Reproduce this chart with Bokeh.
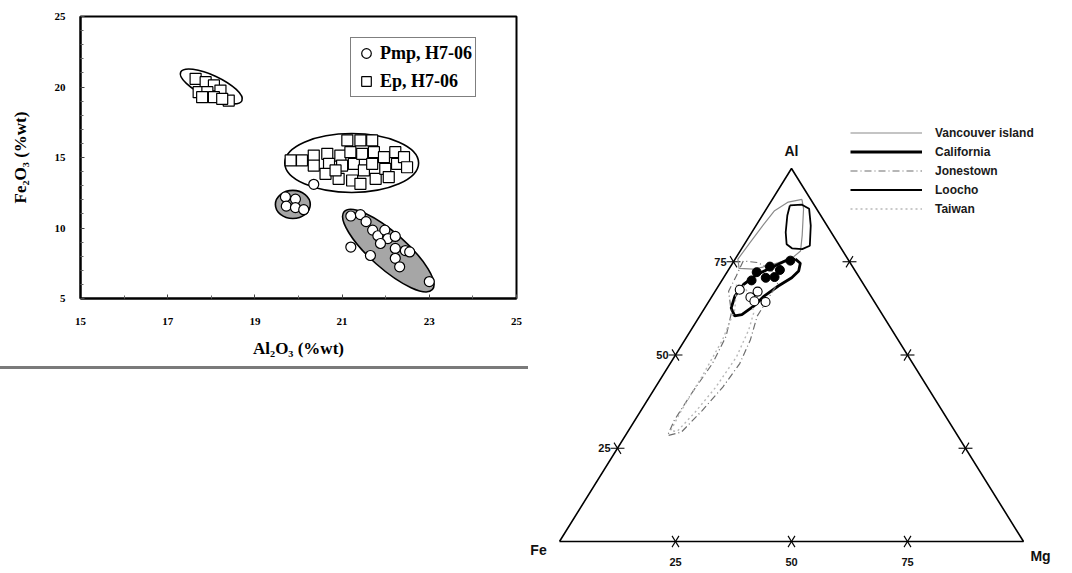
import numpy as np
from bokeh.plotting import figure
from bokeh.models import (ColumnDataSource, FixedTicker, Legend, LegendItem, Div, Range1d)
from bokeh.layouts import row, column
from bokeh.embed import file_html
from bokeh.resources import INLINE
from bokeh.core.properties import value

# ---------------- left diagram: Al2O3 vs Fe2O3 (%wt) ----------------
ep_al2o3 = [17.64, 17.87, 18.06, 17.71, 17.91, 18.21, 17.79, 18.06, 18.40, 18.25,
            19.82, 20.08, 20.35, 20.35, 20.66, 20.70, 20.62, 20.96, 21.00, 20.92,
            21.12, 21.19, 21.27, 21.23, 21.42, 21.46, 21.50, 21.69, 21.73, 21.69,
            21.77, 21.96, 21.99, 22.07, 22.22, 22.26, 22.42, 22.49, 20.85, 21.42]
ep_fe2o3 = [20.58, 20.34, 20.11, 19.63, 19.63, 19.75, 19.28, 19.28, 19.04, 19.16,
            14.79, 14.79, 15.14, 14.43, 15.26, 14.55, 13.84, 15.14, 14.43, 13.49,
            16.21, 15.38, 14.55, 13.37, 16.21, 15.26, 14.08, 16.21, 15.38, 14.55,
            13.49, 15.02, 14.20, 13.61, 15.38, 14.55, 15.02, 14.31, 14.08, 13.13]
pmp_al2o3 = [19.70, 19.93, 19.72, 19.93, 20.12, 20.35,
             21.20, 21.42, 21.55, 21.70, 21.82, 21.98, 22.05, 21.88, 22.22, 22.22,
             22.45, 22.22, 22.32, 21.20, 21.65, 22.55, 23.00]
pmp_fe2o3 = [12.20, 12.05, 11.55, 11.45, 11.30, 13.10,
             10.85, 10.95, 10.45, 9.85, 9.45, 9.85, 9.25, 8.90, 9.40, 8.55,
             8.40, 7.85, 7.25, 8.65, 8.05, 8.30, 6.20]
# outlined groups (ellipses): centre, extent along x and y, tilt
grp_al2o3 = [18.00, 21.22, 19.87, 22.06]
grp_fe2o3 = [20.04, 14.61, 11.67, 8.40]
grp_width = [1.55, 3.07, 0.80, 2.70]
grp_height = [1.57, 4.18, 1.99, 2.55]
grp_angle_deg = [-25.0, 0.0, 0.0, -41.5]
grp_mineral = ["Ep", "Ep", "Pmp", "Pmp"]
x_ticks = [15, 17, 19, 21, 23, 25]
x_minor = [16, 18, 20, 22, 24]
y_ticks = [5, 10, 15, 20, 25]
y_minor = [6, 7, 8, 9, 11, 12, 13, 14, 16, 17, 18, 19, 21, 22, 23, 24]
left_labels = ["Pmp, H7-06", "Ep, H7-06"]

# ---------------- right diagram: Al - Fe - Mg ternary ----------------
vancouver_al = [91.7, 89.2, 82.0, 77.9, 75.9, 74.1, 73.0, 73.2, 75.7, 80.2, 85.1, 88.7, 91.0]
vancouver_mg = [6.4, 8.0, 11.3, 13.0, 12.1, 8.5, 5.4, 2.1, 0.6, 1.0, 1.5, 2.0, 3.8]
vancouver_fe = [1.9, 2.8, 6.7, 9.1, 12.0, 17.4, 21.6, 24.7, 23.7, 18.8, 13.4, 9.3, 5.2]
california_al = [75.7, 74.6, 72.5, 70.7, 68.5, 65.8, 63.1, 60.8, 60.5, 62.6, 65.8, 68.9, 71.6, 73.4, 75.2]
california_mg = [13.0, 14.6, 15.3, 14.7, 12.9, 11.2, 10.3, 8.9, 7.5, 5.7, 4.9, 5.2, 6.8, 8.9, 11.0]
california_fe = [11.3, 10.8, 12.2, 14.6, 18.6, 23.0, 26.6, 30.3, 32.0, 31.7, 29.3, 25.9, 21.6, 17.7, 13.8]
jonestown_al = [75.2, 71.2, 67.1, 61.3, 55.0, 47.7, 39.6, 32.4, 28.4, 29.3, 35.1, 41.4, 47.7, 54.1,
                60.4, 64.9, 69.4, 73.0, 74.8]
jonestown_mg = [2.0, 2.5, 2.9, 6.4, 8.4, 9.1, 8.6, 8.5, 9.1, 11.6, 13.2, 14.5, 15.0, 14.1,
                12.4, 12.4, 12.4, 9.1, 5.2]
jonestown_fe = [22.8, 26.3, 30.0, 32.3, 36.6, 43.2, 51.8, 59.1, 62.5, 59.1, 51.7, 44.1, 37.3, 31.8,
                27.2, 22.7, 18.2, 17.9, 20.0]
loocho_al = [90.1, 90.3, 89.2, 84.7, 79.3, 78.4, 78.6, 79.7, 82.9, 87.4]
loocho_mg = [4.6, 7.1, 9.2, 11.8, 14.3, 13.1, 10.8, 9.1, 7.3, 5.4]
loocho_fe = [5.3, 2.6, 1.6, 3.5, 6.4, 8.5, 10.6, 11.2, 9.8, 7.2]
taiwan_al = [68.9, 62.2, 54.1, 44.1, 35.1, 29.7, 29.5, 34.7, 41.4, 49.5, 56.8, 61.3, 65.8, 68.5]
taiwan_mg = [3.7, 6.7, 8.1, 8.6, 8.7, 9.1, 10.6, 11.9, 13.0, 13.4, 12.4, 11.2, 8.2, 5.4]
taiwan_fe = [27.4, 31.1, 37.8, 47.3, 56.2, 61.2, 59.9, 53.4, 45.6, 37.1, 30.8, 27.5, 26.0, 26.1]
solid_al = [75.3, 72.8, 73.7, 70.9, 70.7, 72.2, 70.0]
solid_mg = [12.1, 11.1, 8.5, 10.9, 9.1, 6.4, 6.4]
solid_fe = [12.6, 16.1, 17.8, 18.2, 20.2, 21.4, 23.6]
open_al = [67.5, 67.0, 65.5, 64.4, 64.2]
open_mg = [5.1, 9.2, 8.4, 9.8, 12.3]
open_fe = [27.4, 23.8, 26.1, 25.8, 23.5]
tern_ticks = [25, 50, 75]
corner_names = ["Fe", "Al", "Mg"]
corner_al = [0, 100, 0]
corner_mg = [0, 0, 100]
locality_names = ["Vancouver island", "California", "Jonestown", "Loocho", "Taiwan"]

SERIF = "Liberation Serif"
SANS = "Liberation Sans"

# ================= left figure =================
p = figure(width=528, height=366, x_range=Range1d(15, 25), y_range=Range1d(5, 25),
           output_backend="svg", toolbar_location=None,
           min_border_left=80, min_border_right=12, min_border_top=16, min_border_bottom=68)
p.grid.visible = False
p.outline_line_color = "black"
p.outline_line_width = 2
p.background_fill_color = "white"
p.border_fill_color = "white"

p.xaxis.ticker = FixedTicker(ticks=x_ticks, minor_ticks=x_minor)
p.yaxis.ticker = FixedTicker(ticks=y_ticks, minor_ticks=y_minor)
for ax in (p.xaxis[0], p.yaxis[0]):
    ax.axis_line_width = 2
    ax.axis_line_color = "black"
    ax.major_tick_in = 4
    ax.major_tick_out = 0
    ax.minor_tick_in = 3
    ax.minor_tick_out = 0
    ax.major_tick_line_color = "#444444"
    ax.minor_tick_line_color = "#666666"
    ax.major_label_text_font = SERIF
    ax.major_label_text_font_style = "bold"
    ax.major_label_text_font_size = "11px"
    ax.major_label_text_color = "black"
    ax.axis_label_text_font = SERIF
    ax.axis_label_text_font_style = "bold"
    ax.axis_label_text_font_size = "17px"
    ax.axis_label_text_color = "black"
p.xaxis.axis_label = "Al\u2082O\u2083 (%wt)"
p.yaxis.axis_label = "Fe\u2082O\u2083 (%wt)"
p.xaxis.major_label_standoff = 19
p.xaxis.axis_label_standoff = 11
p.yaxis.major_label_standoff = 15
p.yaxis.axis_label_standoff = 22

grp_src = ColumnDataSource(dict(
    x=grp_al2o3, y=grp_fe2o3, w=grp_width, h=grp_height,
    angle=list(np.deg2rad(grp_angle_deg)),
    alpha=[1.0 if m == "Pmp" else 0.0 for m in grp_mineral]))
p.ellipse(x="x", y="y", width="w", height="h", angle="angle", source=grp_src,
          fill_color="#a6a6a6", fill_alpha="alpha", line_color="black", line_width=1.6)

r_ep = p.scatter(ep_al2o3, ep_fe2o3, marker="square", size=11, fill_color="white",
                 line_color="black", line_width=1.2)
r_pmp = p.scatter(pmp_al2o3, pmp_fe2o3, marker="circle", size=10, fill_color="white",
                  line_color="black", line_width=1.2)

leg = Legend(items=[LegendItem(label=left_labels[0], renderers=[r_pmp]),
                    LegendItem(label=left_labels[1], renderers=[r_ep])],
             location=(270, 201))
leg.border_line_color = "black"
leg.border_line_width = 1.5
leg.background_fill_color = "white"
leg.background_fill_alpha = 1.0
leg.label_text_font = SERIF
leg.label_text_font_style = "bold"
leg.label_text_font_size = "18px"
leg.label_text_color = "black"
leg.glyph_width = 24
leg.glyph_height = 24
leg.label_height = 24
leg.label_standoff = 2
leg.spacing = 4
leg.padding = 3
leg.margin = 0
p.add_layout(leg)

sep = Div(text="", width=528, height=3, margin=(0, 0, 0, 0),
          styles={"background-color": "#7a7a7a"})

# ================= right figure: ternary =================
def txy(al, mg):
    al = np.asarray(al, dtype=float)
    mg = np.asarray(mg, dtype=float)
    return mg + al / 2.0, al

t = figure(width=544, height=573, x_range=Range1d(-6.68, 110.56), y_range=Range1d(-8.58, 145.04),
           output_backend="svg", toolbar_location=None, min_border=0,
           x_axis_location=None, y_axis_location=None)
t.grid.grid_line_color = None
t.outline_line_color = None
t.background_fill_color = "white"
t.border_fill_color = "white"

# triangle frame
tri_x, tri_y = txy(corner_al + corner_al[:1], corner_mg + corner_mg[:1])
t.line(tri_x, tri_y, line_color="black", line_width=1.6)

# ternary ticks (small crosses)
h = 1.5
tv = np.array(tern_ticks, dtype=float)
zeros = np.zeros_like(tv)
sx0, sy0, sx1, sy1 = [], [], [], []
def add_seg(al, mg, dal, dmg):
    x0, y0 = txy(al - h * dal, mg - h * dmg)
    x1, y1 = txy(al + h * dal, mg + h * dmg)
    sx0.extend(x0); sy0.extend(y0); sx1.extend(x1); sy1.extend(y1)
# left edge (Mg = 0)
add_seg(tv, zeros, 0, 1); add_seg(tv, zeros, 1, -1)
# bottom edge (Al = 0)
add_seg(zeros, tv, 1, 0); add_seg(zeros, tv, 1, -1)
# right edge (Fe = 0)
add_seg(tv, 100 - tv, 0, 1); add_seg(tv, 100 - tv, 1, 0)
t.segment(sx0, sy0, sx1, sy1, line_color="black", line_width=1.1)

# tick labels
lx, ly = txy(tv, zeros)
t.text(lx, ly, text=[str(int(v)) for v in tv], x_offset=-7, text_align="right",
       text_baseline="middle", text_font=value(SANS), text_font_style="bold",
       text_font_size="11px", text_color="#111111")
bx, by = txy(zeros, tv)
t.text(bx, by, text=[str(int(v)) for v in tv], y_offset=21, text_align="center",
       text_baseline="middle", text_font=value(SANS), text_font_style="bold",
       text_font_size="11px", text_color="#111111")

# corner labels
cx, cy = txy(corner_al, corner_mg)
t.text(cx, cy, text=corner_names, x_offset=[-21, 0, 17], y_offset=[9, -17, 15],
       text_align="center", text_baseline="middle", text_font=value(SANS),
       text_font_style="bold", text_font_size="14px", text_color="#111111")

def closed(a):
    return list(a) + [a[0]]

styles = [
    (vancouver_al, vancouver_mg, dict(line_color="#8a8a8a", line_width=1.2)),
    (california_al, california_mg, dict(line_color="black", line_width=2.8)),
    (jonestown_al, jonestown_mg, dict(line_color="#6e6e6e", line_width=1.2, line_dash="7 3 1 3")),
    (loocho_al, loocho_mg, dict(line_color="black", line_width=1.8)),
    (taiwan_al, taiwan_mg, dict(line_color="#b8b8b8", line_width=1.4, line_dash="2 3")),
]
loc_renderers = []
for al, mg, st in styles:
    x, y = txy(closed(al), closed(mg))
    loc_renderers.append(t.line(x, y, **st))

ox, oy = txy(open_al, open_mg)
t.scatter(ox, oy, marker="circle", size=9, fill_color="white", line_color="black", line_width=1.1)
fx, fy = txy(solid_al, solid_mg)
t.scatter(fx, fy, marker="circle", size=9, fill_color="black", line_color="black", line_width=1.0)

tleg = Legend(items=[LegendItem(label=n, renderers=[r]) for n, r in zip(locality_names, loc_renderers)],
              location=(322, 357))
tleg.border_line_color = None
tleg.background_fill_alpha = 0
tleg.label_text_font = SANS
tleg.label_text_font_style = "bold"
tleg.label_text_font_size = "12px"
tleg.label_text_color = "#1a1a1a"
tleg.glyph_width = 72
tleg.glyph_height = 15
tleg.label_height = 15
tleg.label_standoff = 13
tleg.spacing = 4
tleg.padding = 0
tleg.margin = 0
t.add_layout(tleg)

layout = row(column(p, sep), t)
with open("out.html", "w") as f:
    f.write(file_html(layout, INLINE))
